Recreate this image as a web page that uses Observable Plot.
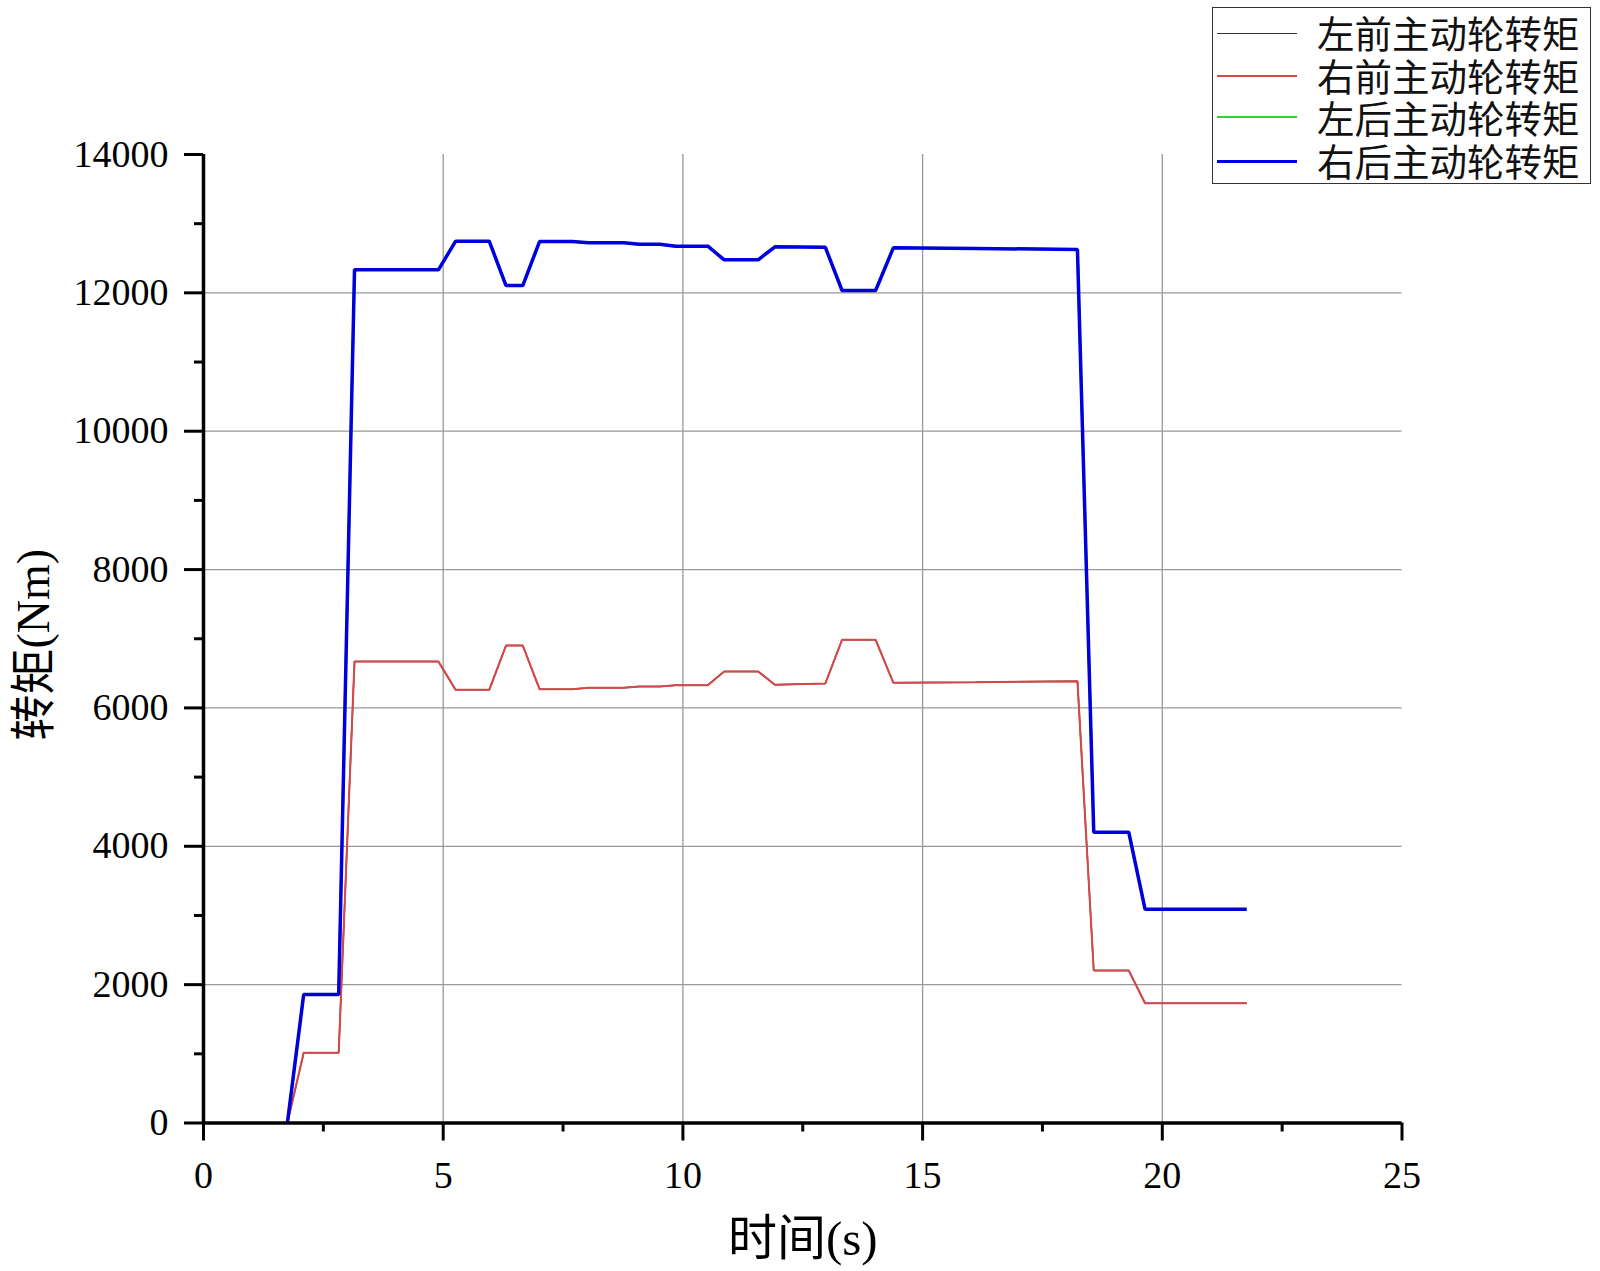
<!DOCTYPE html>
<html>
<head>
<meta charset="utf-8">
<script src="https://cdn.jsdelivr.net/npm/d3@7"></script>
<script src="https://cdn.jsdelivr.net/npm/@observablehq/plot@0.6"></script>
<style>
  body { margin: 0; background: #fff; }
  #wrap { position: relative; width: 1600px; height: 1271px; }
  #wrap svg { display: block; }
  #legend { position: absolute; left: 1212px; top: 7px; width: 377px; height: 175px;
            border: 1.5px solid #333; background: #fff; box-sizing: content-box; }
  .lline { position: absolute; left: 4px; width: 80px; }
  .ltext { position: absolute; left: 104px; top: 3px; margin: 0;
           font-family: "Noto Sans CJK SC", sans-serif; font-size: 37.5px; line-height: 42.7px; color: #111; white-space: nowrap; }
</style>
</head>
<body>
<div id="wrap"></div>
<script>
// ---- data ----
const seriesNames = ["左前主动轮转矩", "右前主动轮转矩", "左后主动轮转矩", "右后主动轮转矩"];
const seriesColors = ["#333333", "#d84848", "#22dd22", "#0000dd"];
const seriesWidths = [1.5, 2, 2.5, 3.5];

const timeS = [1.75, 2.09, 2.82, 3.15, 4.90, 5.26, 5.96, 6.31, 6.66, 7.01, 7.69, 8.03, 8.77, 9.09, 9.52, 9.85,
               10.52, 10.86, 11.57, 11.92, 12.97, 13.32, 14.02, 14.39, 16.10, 18.23, 18.57, 19.30, 19.64, 21.76];

const leftFrontNm  = [0, 1015, 1015, 6671, 6671, 6261, 6261, 6902, 6902, 6271, 6271, 6290, 6290, 6310, 6310, 6329,
                      6329, 6527, 6527, 6334, 6352, 6985, 6985, 6363, 6372, 6387, 2204, 2204, 1732, 1732];
const rightFrontNm = [0, 1015, 1015, 6671, 6671, 6261, 6261, 6902, 6902, 6271, 6271, 6290, 6290, 6310, 6310, 6329,
                      6329, 6527, 6527, 6334, 6352, 6985, 6985, 6363, 6372, 6387, 2204, 2204, 1732, 1732];
const leftRearNm   = [0, 1857, 1857, 12333, 12333, 12747, 12747, 12106, 12106, 12742, 12742, 12723, 12723, 12704, 12704, 12675,
                      12675, 12478, 12478, 12666, 12660, 12034, 12034, 12651, 12642, 12627, 4204, 4204, 3091, 3091];
const rightRearNm  = [0, 1857, 1857, 12333, 12333, 12747, 12747, 12106, 12106, 12742, 12742, 12723, 12723, 12704, 12704, 12675,
                      12675, 12478, 12478, 12666, 12660, 12034, 12034, 12651, 12642, 12627, 4204, 4204, 3091, 3091];

const xTicks = [0, 5, 10, 15, 20, 25];
const xMinorTicks = [2.5, 7.5, 12.5, 17.5, 22.5];
const xGridTicks = [5, 10, 15, 20];
const yTicks = [0, 2000, 4000, 6000, 8000, 10000, 12000, 14000];
const yMinorTicks = [1000, 3000, 5000, 7000, 9000, 11000, 13000];
const yGridTicks = [2000, 4000, 6000, 8000, 10000, 12000];
const xTitle = "时间(s)";
const yTitle = "转矩(Nm)";

const seriesValues = [leftFrontNm, rightFrontNm, leftRearNm, rightRearNm];

const lineMarks = seriesValues.map((vals, i) =>
  Plot.line(timeS, {x: timeS, y: vals, stroke: seriesColors[i], strokeWidth: seriesWidths[i],
                    strokeLinejoin: "miter", strokeLinecap: "butt"}));

const chart = Plot.plot({
  width: 1600,
  height: 1271,
  marginLeft: 203,
  marginRight: 198.5,
  marginTop: 154,
  marginBottom: 148.5,
  style: {fontFamily: '"Liberation Serif", "Noto Sans CJK SC", serif', fontSize: "38px", background: "#fff", color: "#000"},
  x: {domain: [0, 25], label: null},
  y: {domain: [0, 14000], label: null},
  marks: [
    Plot.gridX(xGridTicks, {stroke: "#999", strokeOpacity: 1, strokeWidth: 1.3}),
    Plot.gridY(yGridTicks, {stroke: "#999", strokeOpacity: 1, strokeWidth: 1.3}),
    ...lineMarks,
    Plot.ruleX([0], {strokeWidth: 3.5}),
    Plot.ruleY([0], {strokeWidth: 3.5}),
    Plot.axisX(xTicks, {tickSize: 18, tickPadding: 20, strokeWidth: 3, tickFormat: d => String(d), label: null}),
    Plot.axisX(xMinorTicks, {tickSize: 9, strokeWidth: 3, tickFormat: () => "", label: null}),
    Plot.axisY(yTicks, {tickSize: 19, tickPadding: 16, strokeWidth: 3, tickFormat: d => String(d), label: null}),
    Plot.axisY(yMinorTicks, {tickSize: 9, strokeWidth: 3, tickFormat: () => "", label: null}),
    Plot.text([xTitle], {text: d => d, frameAnchor: "bottom", textAnchor: "middle", lineAnchor: "middle", dy: 116, fontSize: 49}),
    Plot.text([yTitle], {text: d => d, frameAnchor: "left", textAnchor: "middle", lineAnchor: "middle", dx: -169, dy: 6, rotate: -90, fontSize: 46})
  ]
});

const wrap = document.getElementById("wrap");
wrap.appendChild(chart);

// legend: sample lines + one text block (one line per series)
const legend = document.createElement("div");
legend.id = "legend";
const rowCenters = [25.3, 67.7, 109.7, 153.3];
seriesNames.forEach((name, i) => {
  const ln = document.createElement("div");
  ln.className = "lline";
  ln.style.borderTop = seriesWidths[i] + "px solid " + seriesColors[i];
  ln.style.top = (rowCenters[i] - seriesWidths[i] / 2) + "px";
  legend.appendChild(ln);
});
const tx = document.createElement("div");
tx.className = "ltext";
seriesNames.forEach((name, i) => {
  if (i > 0) tx.appendChild(document.createElement("br"));
  tx.appendChild(document.createTextNode(name));
});
legend.appendChild(tx);
wrap.appendChild(legend);
</script>
</body>
</html>
